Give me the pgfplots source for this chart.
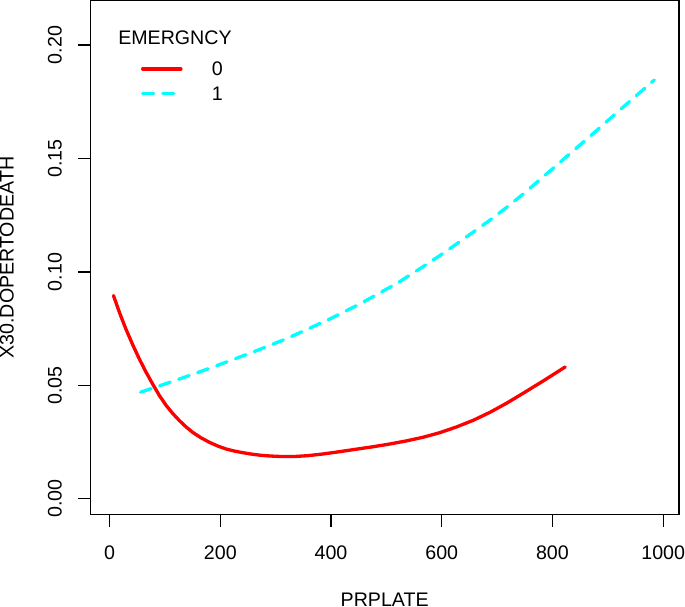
\documentclass[border=0pt]{standalone}
\usepackage{pgfplots}
\pgfplotsset{compat=1.18}
\usepackage{fontspec}
\setmainfont{Liberation Sans}
\definecolor{rred}{HTML}{FF0000}
\definecolor{rcyan}{HTML}{00FFFF}
\begin{document}
\begin{tikzpicture}
\begin{axis}[
  scale only axis, width=584.7bp, height=510.7bp,
  xmin=-34.5, xmax=1028.5, ymin=-0.00697, ymax=0.2196,
  axis line style={line width=1.2bp},
  xtick pos=bottom, ytick pos=left,
  tick style={line width=1.2bp, black},
  tick align=outside, major tick length=12bp,
  xtick={0,200,400,600,800,1000},
  xticklabels={0,200,400,600,800,1000},
  ytick={0,0.05,0.10,0.15,0.20},
  yticklabels={0.00,0.05,0.10,0.15,0.20},
  /pgf/number format/assume math mode=true,
  tick label style={font=\fontsize{19.5bp}{22bp}\selectfont, inner sep=0pt},
  xticklabel style={anchor=north, yshift=-19bp},
  yticklabel style={rotate=90, anchor=south},
  yticklabel shift=16.3bp,
  xlabel={PRPLATE},
  ylabel={X30.DOPERTODEATH},
  label style={font=\fontsize{19.5bp}{22bp}\selectfont, inner sep=0pt},
  xlabel style={at={([yshift=-91bp]axis description cs:0.5,0)}, anchor=base},
  ylabel style={at={([xshift=-76.3bp]axis description cs:0,0.5)}, anchor=base},
  legend style={draw=none, fill=none, at={([xshift=50bp,yshift=-60.7bp]rel axis cs:0,1)}, anchor=north west,
    font=\fontsize{19.5bp}{22bp}\selectfont, row sep=10.5bp, column sep=29bp, inner sep=0pt,
    nodes={inner sep=0pt, text height=14bp, text depth=0bp}},
  legend cell align=left,
  legend image code/.code={\draw[#1] (0bp,0bp) -- (38bp,0bp);},
]
\addplot[color=rred, line width=3.3bp, line cap=round] coordinates {
(7,0.0896) (18,0.0820) (29,0.0751) (41,0.0683) (53,0.0620) (65,0.0562) (78,0.0505)
(90,0.0455) (102,0.0412) (114,0.0376) (126,0.0345) (138,0.0317) (150,0.0293)
(165,0.0269) (181,0.0248) (196,0.0232) (211,0.0219) (226,0.0210) (241,0.0203)
(256,0.0197) (272,0.0192) (287,0.0189) (302,0.0187) (317,0.0186) (332,0.0186)
(358,0.0190) (384,0.0197) (414,0.0207) (444,0.0218) (475,0.0229) (505,0.0241)
(536,0.0255) (566,0.0271) (596,0.0291) (626,0.0316) (657,0.0346) (687,0.0381)
(717,0.0421) (747,0.0465) (785,0.0522) (823,0.0581)
};
\addlegendentry{0}
\addplot[color=rcyan, line width=3.3bp, line cap=round, dash pattern=on 11bp off 9bp] coordinates {
(56,0.0470) (100,0.0506) (144,0.0543) (186,0.0580) (229,0.0619) (273,0.0660)
(317,0.0703) (358,0.0748) (400,0.0795) (450,0.0856) (520,0.0951) (558,0.1010)
(596,0.1071) (626,0.1122) (656,0.1174) (687,0.1228) (717,0.1284) (748,0.1345)
(778,0.1408) (808,0.1471) (838,0.1535) (869,0.1600) (899,0.1665) (941,0.1755)
(984,0.1846)
};
\addlegendentry{1}
\node[anchor=base west, inner sep=0pt, font=\fontsize{19.5bp}{22bp}\selectfont]
  at ([xshift=27.4bp,yshift=-43.3bp]rel axis cs:0,1) {EMERGNCY};
\end{axis}
\end{tikzpicture}
\end{document}
